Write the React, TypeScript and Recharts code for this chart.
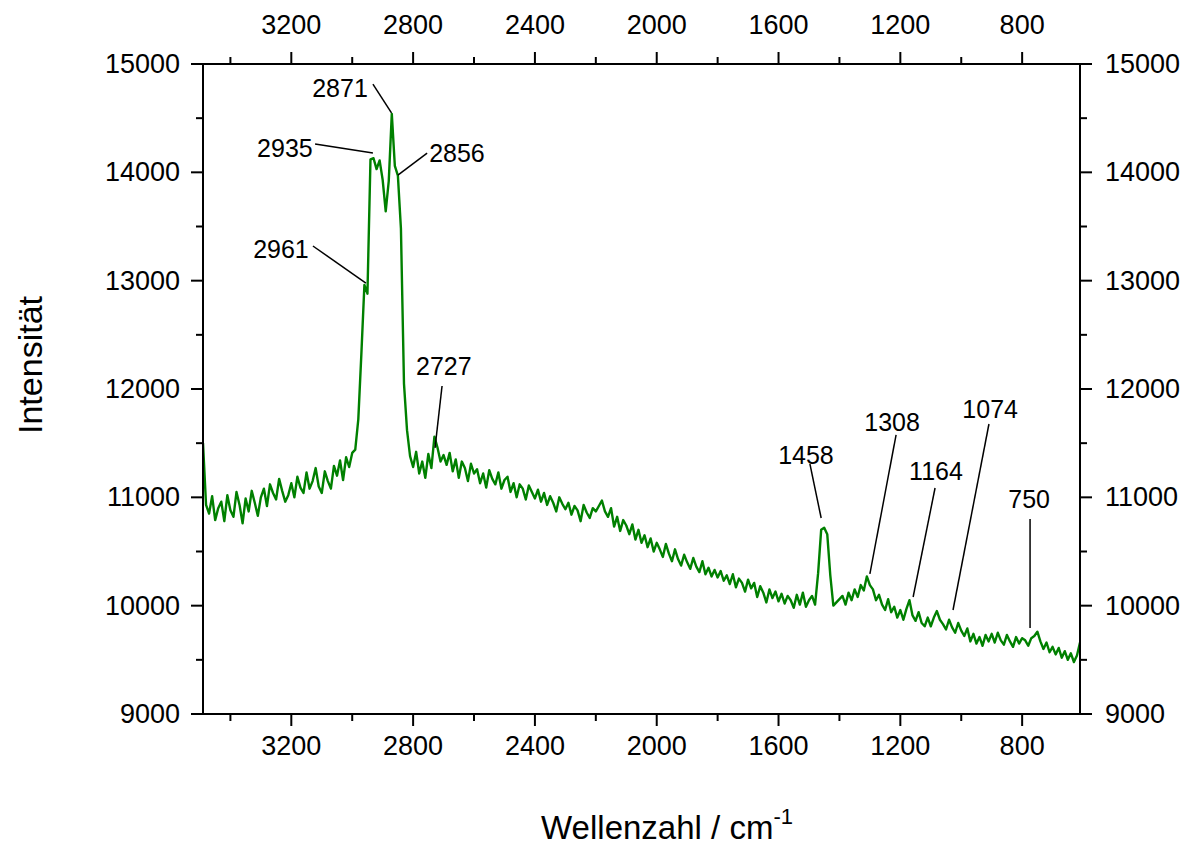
import React from "react";
import {
  LineChart, Line, XAxis, YAxis, ReferenceLine, ReferenceDot
} from "recharts";

// Raman spectrum, sampled every 10 cm-1 from 3490 down to 610
const intensity = [
  11500, 10930, 10850, 11010, 10790, 10900, 10960, 10780, 11020, 10880,
  10820, 11050, 10930, 10760, 10990, 10870, 11060, 10950, 10830, 11000,
  11080, 10920, 11120, 11040, 10980, 11170, 11060, 10960, 11020, 11130,
  11000, 11190, 11090, 11040, 11230, 11080, 11150, 11270, 11100, 11040,
  11240, 11150, 11080, 11290, 11200, 11340, 11160, 11370, 11280, 11410,
  11440, 11720, 12320, 12960, 12880, 14120, 14130, 14030, 14110, 13930,
  13640, 13920, 14540, 14060, 13970, 13480, 12050, 11620, 11380, 11280,
  11420, 11220, 11330, 11180, 11400, 11270, 11560, 11460, 11330, 11390,
  11300, 11410, 11240, 11350, 11180, 11330, 11270, 11150, 11310, 11220,
  11260, 11130, 11220, 11090, 11250, 11170, 11120, 11230, 11080, 11160,
  11190, 11050, 11130, 11000, 11120, 11080, 10980, 11110, 11050, 10990,
  11070, 10960, 11040, 10930, 11010, 10950, 10870, 11000, 10940, 10890,
  10950, 10840, 10920, 10880, 10780, 10930, 10860, 10810, 10900, 10870,
  10920, 10970, 10870, 10820, 10900, 10730, 10820, 10690, 10790, 10740,
  10660, 10750, 10610, 10700, 10580, 10650, 10540, 10620, 10500, 10580,
  10520, 10450, 10570, 10480, 10410, 10520, 10430, 10370, 10470, 10400,
  10340, 10440, 10360, 10310, 10410, 10290, 10350, 10270, 10330, 10260,
  10320, 10230, 10280, 10200, 10290, 10170, 10250, 10210, 10130, 10240,
  10160, 10210, 10080, 10180, 10120, 10030, 10150, 10070, 10130, 10040,
  10110, 10020, 10090, 10050, 9980, 10100, 10010, 10120, 9990, 10050,
  10090, 10010, 10300, 10700, 10720, 10660, 10280, 10000, 10030, 10060,
  10090, 10010, 10120, 10050, 10150, 10080, 10190, 10140, 10270, 10190,
  10150, 10050, 10100, 10010, 9960, 10060, 9940, 9990, 9890, 9960,
  9870, 9970, 10050, 9910, 9860, 9940, 9840, 9810, 9890, 9810,
  9890, 9950, 9870, 9830, 9780, 9870, 9800, 9750, 9840, 9770,
  9720, 9790, 9670, 9740, 9650, 9710, 9630, 9730, 9670, 9740,
  9660, 9750, 9680, 9640, 9730, 9670, 9620, 9710, 9650, 9700,
  9680, 9630, 9700, 9720, 9760, 9670, 9600, 9660, 9570, 9620,
  9550, 9610, 9520, 9580, 9500, 9560, 9480, 9540, 9660,
];

const wavenumbers = intensity.map((_, i) => 3490 - i * 10);

const xTicks = [800, 1000, 1200, 1400, 1600, 1800, 2000, 2200, 2400, 2600, 2800, 3000, 3200, 3400];
const yTicks = [9000, 9500, 10000, 10500, 11000, 11500, 12000, 12500, 13000, 13500, 14000, 14500, 15000];

// peak labels: text position + leader line (from, to)
const peakLabels = ["2871", "2935", "2856", "2961", "2727", "1458", "1308", "1164", "1074", "750"];
const labelPos = [
  [3040, 14778], [3221, 14225], [2656, 14178], [3234, 13292], [2699, 12212],
  [1510, 11391], [1227, 11696], [1083, 11243], [905, 11816], [777, 10985],
];
const leaderFrom = [
  [2932, 14815], [3122, 14262], [2754, 14178], [3129, 13320], [2705, 12028],
  [1497, 11308], [1214, 11576], [1086, 11086], [909, 11677], [774, 10800],
];
const leaderTo = [
  [2871, 14548], [2932, 14178], [2850, 13975], [2955, 12978], [2728, 11456],
  [1460, 10809], [1300, 10293], [1158, 10080], [1027, 9960], [774, 9794],
];

const FONT = "Arial, 'Liberation Sans', sans-serif";

const data = wavenumbers.map((wn, i) => ({ wn, y: intensity[i] }));

const XTick = ({ x, y, payload, top }: any) => {
  const major = payload.value % 400 === 0;
  const dir = top ? -1 : 1;
  return (
    <g>
      <line x1={x} x2={x} y1={y} y2={y + dir * (major ? 12 : 7)} stroke="#000" strokeWidth={2} />
      {major && (
        <text x={x} y={top ? y - 39 : y + 32} textAnchor="middle" dominantBaseline="central"
          fontSize={27} fontFamily={FONT} fill="#000">
          {payload.value}
        </text>
      )}
    </g>
  );
};

const YTick = ({ x, y, payload, right }: any) => {
  const major = payload.value % 1000 === 0;
  const dir = right ? 1 : -1;
  return (
    <g>
      <line x1={x} x2={x + dir * (major ? 12 : 7)} y1={y} y2={y} stroke="#000" strokeWidth={2} />
      {major && (
        <text x={right ? x + 25 : x - 23} y={y} textAnchor={right ? "start" : "end"}
          dominantBaseline="central" fontSize={27} fontFamily={FONT} fill="#000">
          {payload.value}
        </text>
      )}
    </g>
  );
};

const App: React.FC = () => {
  const axisLine = { stroke: "#000", strokeWidth: 2 };
  return (
    <div style={{ position: "absolute", left: 0, top: 0, width: 1195, height: 845, background: "#fff", overflow: "hidden" }}>
      <LineChart width={1195} height={845} data={data} margin={{ top: 0, right: 0, bottom: 0, left: 0 }}>
        <XAxis xAxisId="b" dataKey="wn" type="number" domain={[610, 3490]} reversed allowDataOverflow
          ticks={xTicks} interval={0} height={131} tickSize={0} tickMargin={0}
          axisLine={axisLine} tickLine={false} tick={(p: any) => <XTick {...p} />} />
        <XAxis xAxisId="t" orientation="top" dataKey="wn" type="number" domain={[610, 3490]} reversed allowDataOverflow
          ticks={xTicks} interval={0} height={64} tickSize={0} tickMargin={0}
          axisLine={axisLine} tickLine={false} tick={(p: any) => <XTick {...p} top />} />
        <YAxis yAxisId="l" type="number" domain={[9000, 15000]} allowDataOverflow
          ticks={yTicks} interval={0} width={203} tickSize={0} tickMargin={0}
          axisLine={axisLine} tickLine={false} tick={(p: any) => <YTick {...p} />} />
        <YAxis yAxisId="r" orientation="right" type="number" domain={[9000, 15000]} allowDataOverflow
          ticks={yTicks} interval={0} width={115} tickSize={0} tickMargin={0}
          axisLine={axisLine} tickLine={false} tick={(p: any) => <YTick {...p} right />} />
        <Line xAxisId="b" yAxisId="l" type="linear" dataKey="y" stroke="#008000" strokeWidth={2.4}
          strokeLinejoin="round" dot={false} isAnimationActive={false} />
        {peakLabels.map((lbl, i) => (
          <ReferenceLine key={"l" + lbl} xAxisId="b" yAxisId="l" stroke="#000" strokeWidth={1.5}
            segment={[{ x: leaderFrom[i][0], y: leaderFrom[i][1] }, { x: leaderTo[i][0], y: leaderTo[i][1] }]} />
        ))}
        {peakLabels.map((lbl, i) => (
          <ReferenceDot key={"t" + lbl} xAxisId="b" yAxisId="l" x={labelPos[i][0]} y={labelPos[i][1]} r={1}
            shape={(p: any) => (
              <text x={p.cx} y={p.cy} textAnchor="middle" dominantBaseline="central"
                fontSize={25} fontFamily={FONT} fill="#000">{lbl}</text>
            )} />
        ))}
      </LineChart>
      <div style={{
        position: "absolute", left: 30, top: 365, transform: "translate(-50%, -50%) rotate(-90deg)",
        fontFamily: FONT, fontSize: 34, lineHeight: 1, whiteSpace: "nowrap", color: "#000",
      }}>Intensität</div>
      <div style={{
        position: "absolute", left: 667, top: 827, transform: "translate(-50%, -50%)",
        fontFamily: FONT, fontSize: 33, lineHeight: 1, whiteSpace: "nowrap", color: "#000",
      }}>Wellenzahl / cm<span style={{ position: "relative", top: -15, fontSize: 22 }}>-1</span></div>
    </div>
  );
};

export default App;
